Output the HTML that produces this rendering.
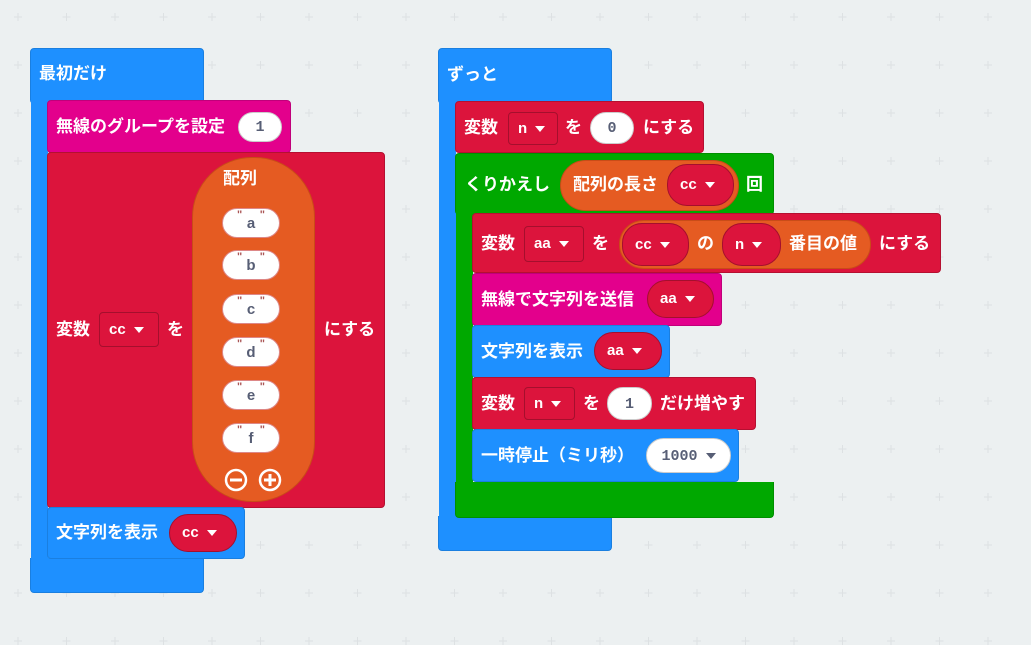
<!DOCTYPE html>
<html><head><meta charset="utf-8"><style>
*{margin:0;padding:0;box-sizing:border-box}
body{width:1031px;height:645px;background:#ecf0f1;position:relative;overflow:hidden;font-family:"Liberation Sans","Noto Sans CJK JP",sans-serif;font-weight:bold;color:#fff;font-size:16px}
.b{position:absolute;border-radius:4px}
.t{position:absolute;white-space:nowrap;line-height:20px;font-size:17px}
.blue{background:#1e90ff;border:1px solid #1a7fe0}
.mag{background:#e3008c;border:1px solid #c0007a}
.red{background:#dc143c;border:1px solid #b51031}
.grn{background:#00a800;border:1px solid #008f00}
.org{background:#e55b22;border:1px solid #c94c18}
.nb{border:none!important}
.dd{position:absolute;background:#dc143c;border:1px solid #a50f2d;border-radius:4px;font-size:15px;line-height:33px;padding-left:9px}
.pill{position:absolute;border-radius:20px;background:#dc143c;border:1px solid #a50f2d;font-size:15px;padding-left:12px}
.w{position:absolute;background:#fff;border-radius:16px;color:#575e75;text-align:center;font-family:"Liberation Mono",monospace;font-size:15px;border:1px solid #ccc}
.s{position:absolute;background:#fff;border-radius:15px;color:#575e75;text-align:center;font-size:15px;line-height:30px;width:58px;height:30px;left:222px;border:1px solid #d88}
.s:before{content:'"  ';position:absolute;left:14px;top:-9px;font-size:11px;color:#a55}
.s:after{content:'"';position:absolute;right:14px;top:-9px;font-size:11px;color:#a55}
.ar{display:inline-block;width:0;height:0;border-left:5px solid transparent;border-right:5px solid transparent;border-top:6px solid #fff;margin-left:8px;vertical-align:middle}
.ag{border-top-color:#575e75}
</style></head><body>
<svg style="position:absolute;left:0;top:0" width="1031" height="645"><defs><pattern id="g" x="-6" y="-7" width="48.5" height="48" patternUnits="userSpaceOnUse"><path d="M24 20v8M20 24h8" stroke="#dde1e3" stroke-width="1"/></pattern></defs><rect width="1031" height="645" fill="url(#g)"/></svg>

<!-- LEFT -->
<div class="b blue" style="left:30px;top:48px;width:174px;height:56px"></div>
<div class="b blue nb" style="left:31px;top:90px;width:17px;height:480px;border-radius:0"></div>
<div class="b blue" style="left:30px;top:558px;width:174px;height:35px;border-top:none;border-radius:0 0 4px 4px"></div>
<div class="t" style="left:39px;top:64px">最初だけ</div>

<div class="b mag" style="left:47px;top:100px;width:244px;height:53px"></div>
<div class="t" style="left:56px;top:117px">無線のグループを設定</div>
<div class="w" style="left:238px;top:112px;width:44px;height:30px;line-height:30px">1</div>

<div class="b red" style="left:47px;top:152px;width:338px;height:356px"></div>
<div class="t" style="left:56px;top:320px">変数</div>
<div class="dd" style="left:99px;top:312px;width:60px;height:35px">cc<span class="ar"></span></div>
<div class="t" style="left:167px;top:320px">を</div>
<div class="t" style="left:324px;top:320px">にする</div>
<div class="b org" style="left:192px;top:157px;width:123px;height:345px;border-radius:60px"></div>
<div class="t" style="left:223px;top:169px">配列</div>
<div class="s" style="top:208px">a</div>
<div class="s" style="top:250px">b</div>
<div class="s" style="top:294px">c</div>
<div class="s" style="top:337px">d</div>
<div class="s" style="top:380px">e</div>
<div class="s" style="top:423px">f</div>
<svg style="position:absolute;left:224px;top:468px" width="60" height="26"><circle cx="12" cy="12" r="10" fill="none" stroke="#fff" stroke-width="2.5"/><path d="M6 12h12" stroke="#fff" stroke-width="3"/><circle cx="46" cy="12" r="10" fill="none" stroke="#fff" stroke-width="2.5"/><path d="M40 12h12M46 6v12" stroke="#fff" stroke-width="3"/></svg>

<div class="b blue" style="left:47px;top:507px;width:198px;height:52px"></div>
<div class="t" style="left:56px;top:523px">文字列を表示</div>
<div class="pill" style="left:169px;top:514px;width:68px;height:38px;line-height:36px">cc<span class="ar"></span></div>

<!-- RIGHT -->
<div class="b blue" style="left:438px;top:48px;width:174px;height:56px"></div>
<div class="b blue nb" style="left:439px;top:90px;width:17px;height:440px;border-radius:0"></div>
<div class="b blue" style="left:438px;top:516px;width:174px;height:35px;border-top:none;border-radius:0 0 4px 4px"></div>
<div class="t" style="left:447px;top:65px">ずっと</div>

<div class="b red" style="left:455px;top:101px;width:249px;height:52px"></div>
<div class="t" style="left:464px;top:118px">変数</div>
<div class="dd" style="left:508px;top:112px;width:50px;height:33px;line-height:31px">n<span class="ar"></span></div>
<div class="t" style="left:565px;top:118px">を</div>
<div class="w" style="left:590px;top:112px;width:44px;height:32px;line-height:32px">0</div>
<div class="t" style="left:643px;top:118px">にする</div>

<div class="b grn" style="left:455px;top:153px;width:319px;height:62px"></div>
<div class="b grn nb" style="left:456px;top:205px;width:17px;height:290px;border-radius:0"></div>
<div class="b grn" style="left:455px;top:482px;width:319px;height:36px;border-top:none;border-radius:0 0 4px 4px"></div>
<div class="t" style="left:465px;top:175px">くりかえし</div>
<div class="b org" style="left:560px;top:160px;width:179px;height:51px;border-radius:26px"></div>
<div class="t" style="left:573px;top:175px">配列の長さ</div>
<div class="pill" style="left:667px;top:164px;width:67px;height:42px;line-height:40px">cc<span class="ar"></span></div>
<div class="t" style="left:746px;top:175px">回</div>

<div class="b red" style="left:472px;top:213px;width:469px;height:60px"></div>
<div class="t" style="left:481px;top:234px">変数</div>
<div class="dd" style="left:524px;top:226px;width:60px;height:36px;line-height:34px">aa<span class="ar"></span></div>
<div class="t" style="left:592px;top:234px">を</div>
<div class="b org" style="left:619px;top:220px;width:252px;height:49px;border-radius:25px"></div>
<div class="pill" style="left:622px;top:223px;width:67px;height:43px;line-height:41px">cc<span class="ar"></span></div>
<div class="t" style="left:697px;top:234px">の</div>
<div class="pill" style="left:722px;top:223px;width:59px;height:43px;line-height:41px">n<span class="ar"></span></div>
<div class="t" style="left:789px;top:234px">番目の値</div>
<div class="t" style="left:879px;top:234px">にする</div>

<div class="b mag" style="left:472px;top:273px;width:250px;height:53px"></div>
<div class="t" style="left:481px;top:290px">無線で文字列を送信</div>
<div class="pill" style="left:647px;top:280px;width:67px;height:38px;line-height:36px">aa<span class="ar"></span></div>

<div class="b blue" style="left:472px;top:325px;width:198px;height:53px"></div>
<div class="t" style="left:481px;top:342px">文字列を表示</div>
<div class="pill" style="left:594px;top:332px;width:68px;height:38px;line-height:36px">aa<span class="ar"></span></div>

<div class="b red" style="left:472px;top:377px;width:284px;height:53px"></div>
<div class="t" style="left:481px;top:394px">変数</div>
<div class="dd" style="left:524px;top:387px;width:51px;height:33px;line-height:31px">n<span class="ar"></span></div>
<div class="t" style="left:583px;top:394px">を</div>
<div class="w" style="left:607px;top:387px;width:45px;height:33px;line-height:33px">1</div>
<div class="t" style="left:660px;top:394px">だけ増やす</div>

<div class="b blue" style="left:472px;top:429px;width:267px;height:53px"></div>
<div class="t" style="left:481px;top:446px">一時停止（ミリ秒）</div>
<div class="w" style="left:646px;top:438px;width:85px;height:35px;line-height:35px;border-radius:18px">1000<span class="ar ag"></span></div>
</body></html>
